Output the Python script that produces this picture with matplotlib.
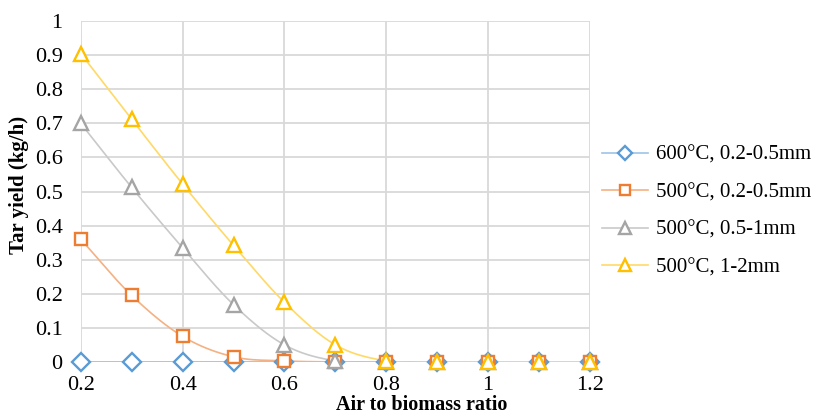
import numpy as np
import matplotlib.pyplot as plt

plt.rcParams['font.family'] = ['Liberation Serif', 'DejaVu Serif']

# Datos
ratio = [0.2, 0.3, 0.4, 0.5, 0.6, 0.7, 0.8, 0.9, 1.0, 1.1, 1.2]
t600_fine = [0, 0, 0, 0, 0, 0, 0, 0, 0, 0, 0]
t500_fine = [0.36, 0.195, 0.075, 0.015, 0.003, 0.0, 0, 0, 0, 0, 0]
t500_mid = [0.70, 0.512, 0.335, 0.168, 0.05, 0.003, 0, 0, 0, 0, 0]
t500_coarse = [0.905, 0.712, 0.522, 0.342, 0.175, 0.05, 0.003, 0, 0, 0, 0]

labels = ['600°C, 0.2-0.5mm', '500°C, 0.2-0.5mm', '500°C, 0.5-1mm', '500°C, 1-2mm']
series = [t600_fine, t500_fine, t500_mid, t500_coarse]
markers = ['D', 's', '^', '^']
msizes = [9, 9, 10, 10]
edge_cols = ['#5B9BD5', '#ED7D31', '#A5A5A5', '#FFC000']
line_cols = ['#9DC3E6', '#F4B183', '#C9C9C9', '#FFD966']


# curva suavizada tipo Excel (Catmull-Rom) solo para dibujar la linea
def suavizar(x, y, n=20):
    x = np.asarray(x, float)
    y = np.asarray(y, float)
    px = np.concatenate([[2 * x[0] - x[1]], x, [2 * x[-1] - x[-2]]])
    py = np.concatenate([[2 * y[0] - y[1]], y, [2 * y[-1] - y[-2]]])
    xs, ys = [], []
    for i in range(1, len(px) - 2):
        t = np.linspace(0, 1, n, endpoint=False)
        for p, out in ((px, xs), (py, ys)):
            p0, p1, p2, p3 = p[i - 1], p[i], p[i + 1], p[i + 2]
            out.extend(0.5 * (2 * p1 + (-p0 + p2) * t
                              + (2 * p0 - 5 * p1 + 4 * p2 - p3) * t ** 2
                              + (-p0 + 3 * p1 - 3 * p2 + p3) * t ** 3))
    xs.append(x[-1])
    ys.append(y[-1])
    return np.array(xs), np.array(ys)


fig = plt.figure(figsize=(8.16, 4.16), dpi=100)
ax = fig.add_axes([0.099, 0.130, 0.624, 0.819])

handles = []
for y, lab, m, ms, ec, lc in zip(series, labels, markers, msizes, edge_cols, line_cols):
    sx, sy = suavizar(ratio, y)
    ax.plot(sx, sy, color=lc, lw=1.2, zorder=2)
    ax.plot(ratio, y, linestyle='none', marker=m, markersize=ms, markerfacecolor='white',
            markeredgecolor=ec, markeredgewidth=1.7, zorder=3, clip_on=False)
    h, = ax.plot([], [], color=lc, lw=1.2, marker=m, markersize=ms * 0.8,
                 markerfacecolor='white', markeredgecolor=ec, markeredgewidth=1.7)
    handles.append(h)

ax.set_xlim(0.2, 1.2)
ax.set_ylim(0, 1)
ax.set_xticks([0.2, 0.4, 0.6, 0.8, 1.0, 1.2])
ax.set_xticklabels(['0.2', '0.4', '0.6', '0.8', '1', '1.2'])
ax.set_yticks(np.arange(0, 1.01, 0.1))
ax.set_yticklabels(['0', '0.1', '0.2', '0.3', '0.4', '0.5', '0.6', '0.7', '0.8', '0.9', '1'])
ax.grid(True, color='#D9D9D9', lw=1.3)
ax.set_axisbelow(True)
for s in ax.spines.values():
    s.set_visible(False)
ax.tick_params(axis='y', length=0, labelsize=16, pad=13)
ax.tick_params(axis='x', length=0, labelsize=16, pad=10)

ax.set_xlabel('Air to biomass ratio', fontsize=14.5, fontweight='bold')
ax.xaxis.set_label_coords(0.67, -0.155)
ax.xaxis.label.set_va('bottom')
ax.set_ylabel('Tar yield (kg/h)', fontsize=15, fontweight='bold')
ax.yaxis.set_label_coords(-0.121, 0.52)
ax.yaxis.label.set_va('center')

fig.legend(handles, labels, loc='upper left', bbox_to_anchor=(0.715, 0.696),
           frameon=False, fontsize=15, handlelength=2.2, handletextpad=0.4,
           labelspacing=0.86)

fig.savefig('out.png', dpi=100)
